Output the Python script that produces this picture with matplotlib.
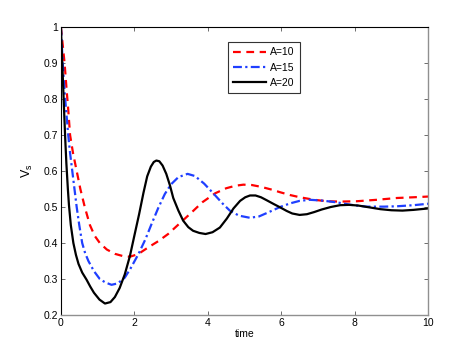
import matplotlib
matplotlib.use("Agg")
import matplotlib.pyplot as plt

plt.rcParams['font.family'] = ['Liberation Sans', 'DejaVu Sans']
plt.rcParams['mathtext.fontset'] = 'custom'
plt.rcParams['mathtext.rm'] = 'Liberation Sans'

# A=10 (red dashed)
t10 = [0, 0.05, 0.1, 0.16, 0.2, 0.25, 0.33, 0.43, 0.53, 0.65, 0.79, 0.92, 1.06, 1.25, 1.47,
       1.68, 1.88, 2.1, 2.38, 2.65, 2.92, 3.24, 3.56, 3.85, 4.2, 4.5, 4.75, 4.97, 5.2,
       5.45, 5.75, 5.97, 6.25, 6.51, 6.9, 7.24, 7.6, 8.06, 8.6, 9.15, 9.6, 10]
v10 = [1.0, 0.95, 0.90, 0.82, 0.77, 0.70, 0.65, 0.60, 0.55, 0.50, 0.45, 0.42, 0.40, 0.382, 0.37,
       0.364, 0.362, 0.369, 0.388, 0.405, 0.425, 0.455, 0.485, 0.513, 0.538, 0.552, 0.559, 0.562, 0.561,
       0.556, 0.548, 0.541, 0.533, 0.527, 0.52, 0.516, 0.515, 0.516, 0.52, 0.525, 0.527, 0.529]

# A=15 (blue dash-dot)
t15 = [0, 0.05, 0.1, 0.15, 0.2, 0.25, 0.31, 0.37, 0.43, 0.5, 0.58, 0.66, 0.75, 0.9, 1.06,
       1.22, 1.38, 1.55, 1.74, 1.9, 2.11, 2.3, 2.47, 2.65, 2.83, 3.0, 3.2, 3.45, 3.65,
       3.9, 4.15, 4.4, 4.6, 4.85, 5.15, 5.4, 5.69, 5.97, 6.24, 6.5, 6.78, 7.1, 7.51,
       7.9, 8.33, 8.8, 9.15, 9.6, 10]
v15 = [1.0, 0.90, 0.82, 0.76, 0.70, 0.65, 0.60, 0.55, 0.50, 0.45, 0.40, 0.372, 0.35, 0.322, 0.30,
       0.29, 0.284, 0.288, 0.304, 0.33, 0.369, 0.41, 0.453, 0.497, 0.536, 0.563, 0.583, 0.592, 0.586,
       0.565, 0.538, 0.51, 0.49, 0.476, 0.47, 0.474, 0.487, 0.50, 0.51, 0.517, 0.52, 0.518, 0.513,
       0.506, 0.501, 0.501, 0.502, 0.505, 0.509]

# A=20 (black solid)
t20 = [0, 0.03, 0.06, 0.09, 0.12, 0.15, 0.19, 0.22, 0.27, 0.34, 0.41, 0.48, 0.58, 0.7, 0.8,
       0.9, 1.05, 1.2, 1.35, 1.47, 1.6, 1.74, 1.88, 2.0, 2.13, 2.25, 2.35, 2.45, 2.53, 2.6,
       2.68, 2.77, 2.87, 2.97, 3.06, 3.2, 3.33, 3.47, 3.6, 3.77, 3.94, 4.13, 4.33, 4.52,
       4.7, 4.88, 5.02, 5.15, 5.3, 5.45, 5.6, 5.8, 5.97, 6.15, 6.3, 6.5, 6.7, 6.9, 7.1,
       7.35, 7.6, 7.85, 8.1, 8.4, 8.7, 9.0, 9.3, 9.6, 10]
v20 = [1.0, 0.92, 0.84, 0.76, 0.685, 0.62, 0.55, 0.505, 0.45, 0.40, 0.367, 0.342, 0.318, 0.298, 0.279,
       0.262, 0.243, 0.232, 0.236, 0.25, 0.275, 0.313, 0.364, 0.42, 0.48, 0.54, 0.585, 0.612, 0.625, 0.629,
       0.627, 0.615, 0.592, 0.56, 0.525, 0.49, 0.462, 0.444, 0.434, 0.428, 0.425, 0.43, 0.443, 0.468,
       0.496, 0.517, 0.527, 0.532, 0.532, 0.527, 0.519, 0.508, 0.499, 0.489, 0.482, 0.478, 0.48, 0.486, 0.493,
       0.5, 0.505, 0.506, 0.504, 0.499, 0.494, 0.491, 0.49, 0.492, 0.496]

xticks = [0, 2, 4, 6, 8, 10]
yticks = [0.2, 0.3, 0.4, 0.5, 0.6, 0.7, 0.8, 0.9, 1.0]
ytick_labels = ["0.2", "0.3", "0.4", "0.5", "0.6", "0.7", "0.8", "0.9", "1"]

fig = plt.figure(figsize=(4.72, 3.54), dpi=100)
ax = fig.add_axes([0.129, 0.110, 0.778, 0.814])

ax.plot(t10, v10, color="#ff0000", ls=(0, (3.5, 2.5)), lw=1.6, label="A=10")
ax.plot(t15, v15, color="#1f3fff", ls=(0, (4, 1.5, 1, 1.5)), lw=1.6, label="A=15")
ax.plot(t20, v20, color="black", ls="-", lw=1.6, label="A=20")

ax.set_xlim(0, 10)
ax.set_ylim(0.2, 1)
ax.set_xticks(xticks)
ax.set_xticklabels([str(x) for x in xticks])
ax.set_yticks(yticks)
ax.set_yticklabels(ytick_labels)
ax.tick_params(direction="in", length=3, width=0.6, labelsize=7.5, top=True, right=True,
               color="#555555", pad=2)

for side in ["left", "top"]:
    ax.spines[side].set_color("black")
    ax.spines[side].set_linewidth(0.8)
for side in ["right", "bottom"]:
    ax.spines[side].set_color("#909090")
    ax.spines[side].set_linewidth(1.0)

ax.set_xlabel("time", fontsize=7.5, labelpad=1)
ax.set_ylabel(r"V$_\mathrm{s}$", fontsize=9, labelpad=6)

leg = ax.legend(loc="upper left", bbox_to_anchor=(0.44, 0.965), fontsize=7.5,
                handlelength=3.2, handletextpad=0.4, labelspacing=0.5,
                borderpad=0.5, fancybox=False, framealpha=1)
leg.get_frame().set_edgecolor("#333333")
leg.get_frame().set_linewidth(0.8)

fig.savefig("out.png", dpi=100)
